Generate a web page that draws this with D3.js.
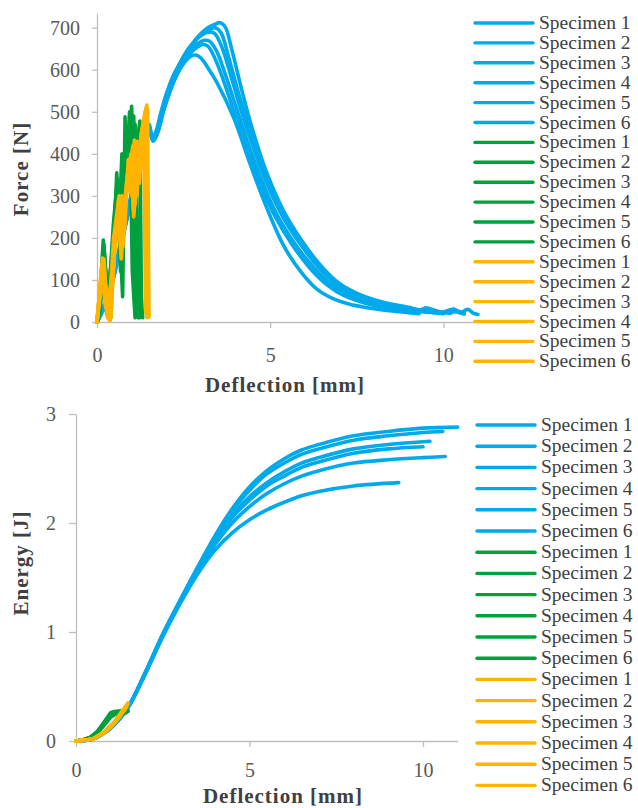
<!DOCTYPE html>
<html>
<head>
<meta charset="utf-8">
<script src="https://cdn.jsdelivr.net/npm/d3@7"></script>
<style>
  body { margin: 0; background: #fff; }
  text { font-family: "Liberation Serif", "Times New Roman", serif; }
</style>
</head>
<body>
<script>
// force-deflection and energy-deflection curves, 3 groups x 6 specimens

var xTicks = [0, 5, 10];
var forceTicks = [0, 100, 200, 300, 400, 500, 600, 700];
var energyTicks = [0, 1, 2, 3];
var legendLabels = ["Specimen 1","Specimen 2","Specimen 3","Specimen 4","Specimen 5","Specimen 6"];
var groupColors = ["#00a9ec", "#00a03e", "#ffb400"];

var forceBlue = [
  [[0,0],[0.3,60],[0.6,160],[0.9,270],[1.2,380],[1.5,470],[1.6,438],[1.7,452],[1.85,500],[2.0,542],[2.2,586],[2.4,617],[2.6,646],[2.8,667],[3.0,686],[3.2,700],[3.4,708],[3.55,712],[3.7,702],[3.9,645],[4.2,545],[4.5,455],[4.9,355],[5.4,262],[5.9,195],[6.4,140],[6.9,98],[7.4,72],[8.0,53],[8.6,41],[9.0,35],[9.3,28],[9.5,34],[9.8,26],[10.0,24],[10.3,31],[10.5,22],[10.7,30],[10.85,22],[11.0,18]],
  [[0,0],[0.3,55],[0.6,150],[0.9,262],[1.2,372],[1.5,462],[1.62,432],[1.72,450],[1.9,505],[2.1,552],[2.3,596],[2.5,630],[2.7,655],[2.9,675],[3.1,690],[3.3,698],[3.42,700],[3.58,688],[3.8,630],[4.1,540],[4.4,462],[4.8,362],[5.3,266],[5.8,196],[6.3,140],[6.8,98],[7.3,70],[7.9,52],[8.5,40],[9.1,32],[9.4,26],[9.6,31],[9.9,24],[10.2,22],[10.4,26],[10.6,20]],
  [[0,0],[0.3,58],[0.6,155],[0.9,266],[1.2,376],[1.5,466],[1.6,436],[1.7,450],[1.88,502],[2.05,545],[2.25,590],[2.45,622],[2.65,648],[2.85,670],[3.05,684],[3.25,690],[3.4,686],[3.6,655],[3.85,590],[4.15,505],[4.5,418],[4.9,330],[5.4,245],[5.9,182],[6.4,130],[6.9,92],[7.4,66],[8.0,49],[8.6,38],[9.2,30],[9.7,25],[10.0,23],[10.2,21]],
  [[0,0],[0.3,52],[0.6,148],[0.9,258],[1.2,368],[1.5,458],[1.62,430],[1.74,448],[1.9,498],[2.1,548],[2.3,590],[2.5,622],[2.7,645],[2.9,662],[3.1,670],[3.25,668],[3.45,645],[3.7,590],[4.0,515],[4.35,428],[4.75,338],[5.2,255],[5.7,188],[6.2,135],[6.7,94],[7.2,66],[7.8,48],[8.4,37],[9.0,29],[9.5,24],[10.0,20]],
  [[0,0],[0.3,56],[0.6,152],[0.9,264],[1.2,374],[1.5,464],[1.6,434],[1.72,448],[1.9,500],[2.1,548],[2.3,588],[2.5,618],[2.7,640],[2.9,654],[3.05,660],[3.2,656],[3.4,628],[3.65,575],[3.95,502],[4.3,418],[4.7,330],[5.15,250],[5.65,182],[6.15,128],[6.65,88],[7.15,62],[7.7,46],[8.3,35],[8.9,28],[9.5,24],[10.0,22],[10.3,25],[10.6,19]],
  [[0,0],[0.3,54],[0.6,150],[0.9,260],[1.2,370],[1.5,460],[1.62,432],[1.75,450],[1.95,510],[2.15,558],[2.35,595],[2.55,620],[2.7,632],[2.85,635],[3.0,628],[3.2,605],[3.46,570],[3.95,485],[4.42,376],[4.9,272],[5.4,180],[5.9,118],[6.35,78],[6.8,56],[7.3,42],[7.8,34],[8.3,28],[8.8,24],[9.3,20]]
];

var forceGreen = [
  [[0,0],[0.05,10],[0.18,195],[0.26,110],[0.36,5],[0.45,120],[0.57,355],[0.64,240],[0.74,60],[0.81,488],[0.88,330],[1.0,513],[1.08,250],[1.14,15],[1.2,10]],
  [[0,0],[0.08,20],[0.2,175],[0.3,60],[0.4,10],[0.52,260],[0.6,340],[0.7,150],[0.78,320],[0.9,430],[0.98,380],[1.1,470],[1.18,180],[1.24,10]],
  [[0,0],[0.1,40],[0.17,160],[0.28,20],[0.42,150],[0.55,300],[0.62,200],[0.72,400],[0.8,280],[0.94,500],[1.02,120],[1.1,10]],
  [[0,0],[0.15,120],[0.22,90],[0.35,15],[0.5,200],[0.6,320],[0.68,230],[0.85,440],[0.95,470],[1.05,300],[1.12,20],[1.22,12]],
  [[0,0],[0.12,100],[0.2,185],[0.32,30],[0.47,230],[0.58,330],[0.68,120],[0.78,380],[0.86,450],[0.96,360],[1.06,490],[1.13,200],[1.18,15]],
  [[0,0],[0.1,60],[0.19,150],[0.3,40],[0.45,180],[0.6,310],[0.75,200],[0.88,410],[1.0,440],[1.1,390],[1.24,478],[1.28,60],[1.32,10]]
];

var forceOrange = [
  [[0,0],[0.16,152],[0.26,70],[0.38,3],[0.5,160],[0.62,290],[0.7,195],[0.85,330],[0.97,394],[1.05,266],[1.2,400],[1.32,470],[1.44,516],[1.47,40],[1.5,12]],
  [[0,0],[0.12,120],[0.2,150],[0.3,20],[0.45,130],[0.58,250],[0.72,300],[0.8,220],[0.9,386],[1.0,330],[1.08,433],[1.15,300],[1.25,420],[1.35,480],[1.4,30],[1.45,10]],
  [[0,0],[0.15,140],[0.24,40],[0.36,5],[0.55,220],[0.65,270],[0.75,180],[0.88,350],[1.0,300],[1.12,410],[1.22,330],[1.38,500],[1.42,20]],
  [[0,0],[0.14,100],[0.28,30],[0.4,10],[0.52,190],[0.66,280],[0.78,250],[0.92,360],[1.04,420],[1.1,280],[1.28,450],[1.4,490],[1.44,15]],
  [[0,0],[0.17,130],[0.3,10],[0.5,170],[0.6,260],[0.7,150],[0.84,300],[0.98,400],[1.06,250],[1.18,380],[1.3,440],[1.46,505],[1.5,15]],
  [[0,0],[0.1,80],[0.18,145],[0.34,10],[0.48,200],[0.64,300],[0.76,220],[0.9,370],[1.02,340],[1.15,430],[1.26,360],[1.42,510],[1.48,18]]
];

var energyBlue = [
  [[0,0],[0.5,0.02],[1.0,0.12],[1.5,0.31],[2.0,0.63],[2.5,0.98],[3.0,1.29],[3.5,1.59],[4.0,1.88],[4.5,2.13],[5.0,2.33],[5.5,2.48],[6.0,2.59],[6.5,2.67],[7.0,2.72],[8.0,2.8],[9.0,2.84],[10.0,2.87],[11.0,2.88]],
  [[0,0],[0.5,0.02],[1.0,0.12],[1.5,0.31],[2.0,0.63],[2.5,0.98],[3.0,1.29],[3.5,1.59],[4.0,1.87],[4.5,2.11],[5.0,2.3],[5.5,2.45],[6.0,2.55],[6.5,2.63],[7.0,2.68],[8.0,2.76],[9.0,2.8],[10.0,2.83],[10.57,2.84]],
  [[0,0],[0.5,0.02],[1.0,0.12],[1.5,0.31],[2.0,0.63],[2.5,0.97],[3.0,1.28],[3.5,1.58],[4.0,1.85],[4.5,2.07],[5.0,2.24],[5.5,2.37],[6.0,2.47],[6.5,2.55],[7.0,2.6],[8.0,2.68],[9.0,2.72],[10.2,2.75]],
  [[0,0],[0.5,0.02],[1.0,0.12],[1.5,0.31],[2.0,0.62],[2.5,0.97],[3.0,1.28],[3.5,1.57],[4.0,1.83],[4.5,2.05],[5.0,2.21],[5.5,2.34],[6.0,2.43],[6.5,2.51],[7.0,2.56],[8.0,2.64],[9.0,2.68],[10.0,2.7]],
  [[0,0],[0.5,0.02],[1.0,0.12],[1.5,0.31],[2.0,0.62],[2.5,0.96],[3.0,1.27],[3.5,1.56],[4.0,1.8],[4.5,2.0],[5.0,2.15],[5.5,2.27],[6.0,2.36],[6.5,2.43],[7.0,2.48],[8.0,2.55],[9.0,2.58],[10.0,2.6],[10.64,2.61]],
  [[0,0],[0.5,0.02],[1.0,0.12],[1.5,0.31],[2.0,0.62],[2.5,0.96],[3.0,1.26],[3.5,1.53],[4.0,1.75],[4.5,1.91],[5.0,2.03],[5.5,2.12],[6.0,2.19],[6.5,2.25],[7.0,2.29],[8.0,2.34],[9.3,2.37]]
];

var energyGreen = [
  [[0,0],[0.2,0.01],[0.4,0.03],[0.6,0.08],[0.8,0.16],[1.0,0.25],[1.2,0.27],[1.5,0.27]],
  [[0,0],[0.2,0.01],[0.4,0.03],[0.6,0.07],[0.8,0.14],[1.0,0.22],[1.2,0.26],[1.45,0.26]],
  [[0,0],[0.2,0.01],[0.4,0.03],[0.6,0.08],[0.8,0.17],[1.0,0.26],[1.1,0.27],[1.3,0.27]],
  [[0,0],[0.2,0.01],[0.4,0.03],[0.6,0.07],[0.8,0.15],[1.0,0.23],[1.15,0.25],[1.4,0.25]],
  [[0,0],[0.2,0.01],[0.4,0.03],[0.6,0.08],[0.8,0.16],[1.0,0.24],[1.15,0.27],[1.5,0.28]],
  [[0,0],[0.2,0.01],[0.4,0.03],[0.6,0.07],[0.8,0.15],[1.0,0.22],[1.25,0.27],[1.45,0.27]]
];

var energyOrange = [
  [[0,0],[0.3,0.01],[0.5,0.02],[0.8,0.08],[1.1,0.17],[1.3,0.26],[1.5,0.35]],
  [[0,0],[0.3,0.01],[0.5,0.02],[0.8,0.07],[1.1,0.16],[1.3,0.25],[1.45,0.31]],
  [[0,0],[0.3,0.01],[0.5,0.02],[0.8,0.08],[1.1,0.17],[1.3,0.25],[1.42,0.3]],
  [[0,0],[0.3,0.01],[0.5,0.02],[0.8,0.07],[1.1,0.16],[1.3,0.24],[1.44,0.3]],
  [[0,0],[0.3,0.01],[0.5,0.02],[0.8,0.08],[1.1,0.17],[1.3,0.26],[1.5,0.34]],
  [[0,0],[0.3,0.01],[0.5,0.02],[0.8,0.08],[1.1,0.17],[1.3,0.25],[1.48,0.33]]
];

var svg = d3.select("body").append("svg").attr("width", 638).attr("height", 808);

function panel(opts) {
  var x = d3.scaleLinear().domain([0, 11]).range(opts.xr);
  var y = d3.scaleLinear().domain(opts.yd).range(opts.yr);
  var g = svg.append("g");

  var ya = g.append("g").attr("transform", "translate(" + opts.xr[0] + ",0)")
    .call(d3.axisLeft(y).tickValues(opts.yTicks).tickFormat(d3.format("d"))
      .tickSize(opts.yTickSize).tickPadding(opts.yPad).tickSizeOuter(0));
  var xa = g.append("g").attr("transform", "translate(0," + opts.yr[0] + ")")
    .call(d3.axisBottom(x).tickValues(xTicks).tickFormat(d3.format("d"))
      .tickSize(6).tickPadding(opts.xPad).tickSizeOuter(0));
  [ya, xa].forEach(function(a) {
    a.attr("font-family", "Liberation Serif").attr("font-size", 20);
    a.select(".domain").attr("stroke", "#bfbfbf").attr("stroke-width", 1.3);
    a.selectAll(".tick line").attr("stroke", "#bfbfbf").attr("stroke-width", 1.3);
    a.selectAll(".tick text").attr("fill", "#595959");
  });

  var line = d3.line().x(function(d) { return x(d[0]); }).y(function(d) { return y(d[1]); });
  var smooth = d3.line().curve(d3.curveCatmullRom.alpha(0.5))
    .x(function(d) { return x(d[0]); }).y(function(d) { return y(d[1]); });

  opts.series.forEach(function(set, i) {
    g.selectAll(null).data(set).enter().append("path")
      .attr("d", i == 0 ? smooth : line)
      .attr("fill", "none")
      .attr("stroke", groupColors[i])
      .attr("stroke-width", 3.6)
      .attr("stroke-linejoin", "round")
      .attr("stroke-linecap", "round");
  });

  // axis titles
  g.append("text").attr("x", opts.xTitle[0]).attr("y", opts.xTitle[1])
    .attr("text-anchor", "middle").attr("fill", "#404040")
    .style("font-size", "21px").style("font-weight", "bold").style("letter-spacing", "1px")
    .text("Deflection [mm]");
  g.append("text").attr("transform", "translate(" + opts.yTitle[0] + "," + opts.yTitle[1] + ") rotate(-90)")
    .attr("text-anchor", "middle").attr("fill", "#404040")
    .style("font-size", "21px").style("font-weight", "bold").style("letter-spacing", "1px")
    .text(opts.yLabel);

  // legend: 6 specimens per group
  var items = [];
  groupColors.forEach(function(c) { legendLabels.forEach(function(l) { items.push({c: c, l: l}); }); });
  var lg = g.selectAll(".leg").data(items).enter().append("g")
    .attr("transform", function(d, i) { return "translate(" + opts.leg[0] + "," + (opts.leg[1] + i * opts.leg[2]) + ")"; });
  lg.append("line").attr("x1", 0).attr("x2", 58).attr("stroke", function(d) { return d.c; })
    .attr("stroke-width", 3.4).attr("stroke-linecap", "round");
  lg.append("text").attr("x", 64).attr("y", 6).attr("fill", "#404040")
    .style("font-size", "19.5px").text(function(d) { return d.l; });
}

panel({
  xr: [97, 478], yd: [0, 735], yr: [322, 13], yTicks: forceTicks, yTickSize: 5, yPad: 12, xPad: 20,
  series: [forceBlue, forceGreen, forceOrange],
  xTitle: [285, 392], yTitle: [28, 169], yLabel: "Force [N]",
  leg: [475, 23, 19.9]
});

panel({
  xr: [76, 457.7], yd: [0, 3], yr: [741, 414], yTicks: energyTicks, yTickSize: 7, yPad: 13, xPad: 16,
  series: [energyBlue, energyGreen, energyOrange],
  xTitle: [283, 803], yTitle: [28, 563], yLabel: "Energy [J]",
  leg: [477, 425, 21.2]
});
</script>
</body>
</html>
